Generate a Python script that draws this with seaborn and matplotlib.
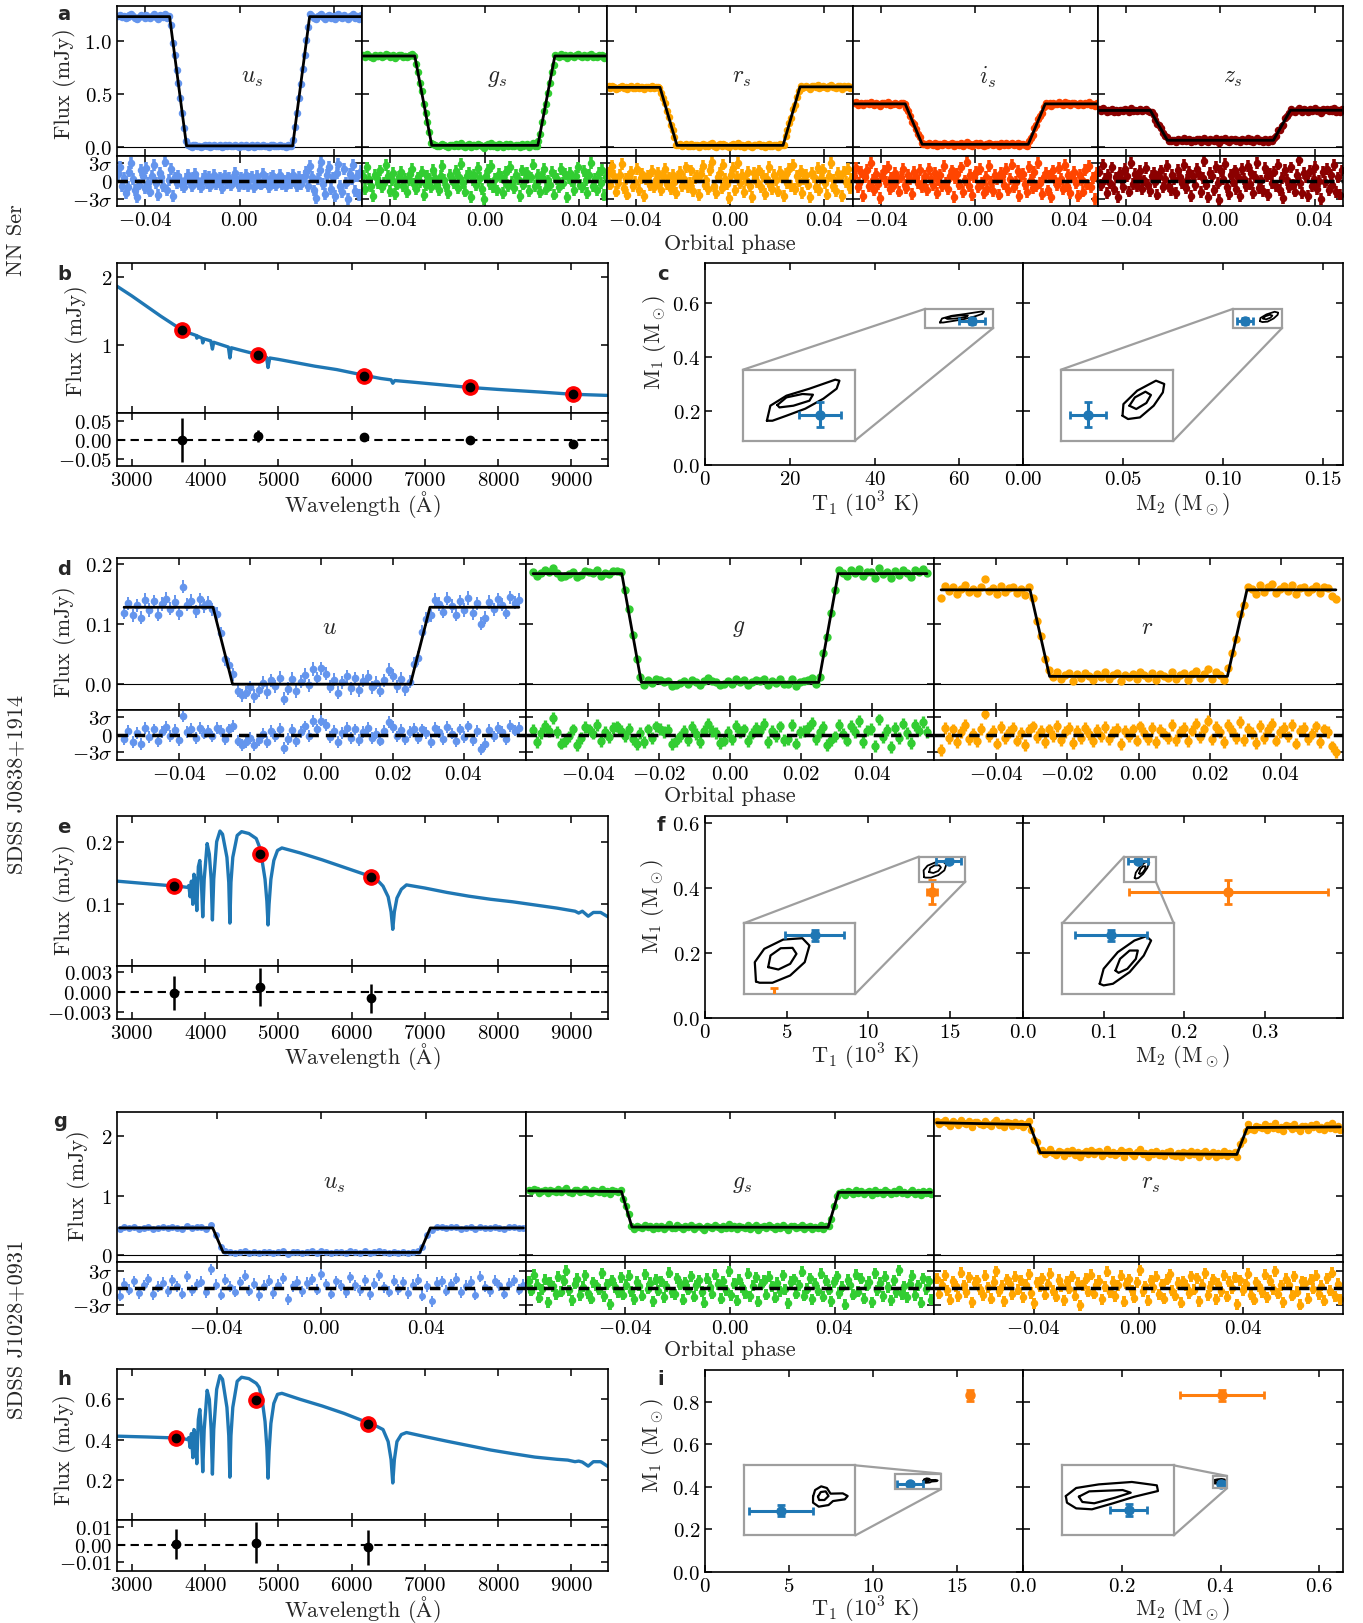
import numpy as np
import pandas as pd
import matplotlib
matplotlib.use("Agg")
import matplotlib.pyplot as plt
import seaborn as sns
from matplotlib.patches import Rectangle, ConnectionPatch

# ======================= DATA =======================
# residuals of the light curves are given in tenths of sigma
# ---- NN Ser light curves (panel a) ----
nn_xlim = (-0.052, 0.052)
nn_ext = (-0.0515, 0.0515)
nn_contacts = [-0.0297, -0.0225, 0.0225, 0.0297]
nn_bands = ["$u_s$", "$g_s$", "$r_s$", "$i_s$", "$z_s$"]
nn_colors = ["#6495ED", "#32CD32", "#FFA500", "#FF4500", "#8B0000"]
nn_model_u = [1.23, 1.23, 0.015, 0.015, 1.23, 1.23]
nn_model_g = [0.86, 0.86, 0.02, 0.02, 0.86, 0.86]
nn_model_r = [0.565, 0.565, 0.02, 0.02, 0.57, 0.57]
nn_model_i = [0.41, 0.41, 0.03, 0.03, 0.41, 0.41]
nn_model_z = [0.348, 0.348, 0.068, 0.068, 0.35, 0.35]
nn_sigma = [0.008, 0.007, 0.006, 0.006, 0.007]
res_nn_u = [12, 24, -8, 5, -21, -10, 16, 31, 4, -15, -28, -6, 19, 8, -12, 22, -4, -18, 9, 27,
            -3, -24, 14, 6, -9, 33, -16, 2, 21, -26,
            6, -3, 9, 2, -7, -11, 4, 10, -2, -8, 5, 12, 1, -6, -10, 3, 8, -4, 7, -9,
            2, 11, -5, -2, 6, -12, 4, 9, -3, 5, -7, 2, 13, -1, -9, 6, 0, -5, 10, -8,
            3, 7, -11, 1, 8, -4, -6, 12, -2, 4, -10, 5, 9, -3, -7, 2, 11, -6, 1, -9,
            6, 3, -4, 10, -1, -8, 7, -5, 2, 8,
            15, -9, 26, 7, -16, -29, 3, 18, 33, -5, -22, 10, 24, -13, 6, -26, 14, 29, -8, -19,
            21, -3, -31, 12, 4, 27, -17, 9, -24, 17]
res_nn_g = [8, -14, 23, 3, -9, -26, 11, 5, -3, 18, -11, -4, 27, 9, -17, 2, 13, -22, -6, 7,
            15, -8, 4, -19, 1, 12, 21, -5, -13, 6, -2, 16, -24, -7, 9, 3, -10, 19, 5, -6,
            -15, 8, 25, 2, -9, -20, 10, 4, -3, 17, -12, 6, 29, -4, -18, 9, 14, -27, 1, 11,
            -7, 22, 5, -14, -30, 8, 19, -5, 26, -11, 3, -16, 12, 7, -21, 0, 15, -8, 24, -2,
            -12, 10, 4, -25, 18, -6, 2, 13, -17, 6, 28, -9, -3, 11, -19, 7, 20, -13, 1, -7,
            16, -23, 9, 3, -10, 21, -4, 12, -28, 5, 14, -1, -15, 8, 23, -6, -11, 17, 2, -20,
            10, 31, -8, 4, -16, 13, -3, 19, -24, 6]
res_nn_r = [14, -6, 25, 8, -18, -3, 10, 29, -12, 4, -23, 7, 16, -9, -2, 21, -15, 5, 12, -26,
            3, 9, -7, 17, -11, 2, 13, -4, -16, 8, 20, -5, 6, -13, 11, -1, -20, 7, 15, -8,
            4, 23, -10, -3, 18, -17, 5, 9, -24, 12, 26, -6, 1, -14, 19, 32, -9, -21, 6, 14,
            -12, 28, 3, -5, -29, 10, 22, -16, 7, 30, -4, 11, -19, 2, 16, -8, -27, 13, 5, -2,
            18, -11, 9, -22, 4, 24, -7, -14, 10, 1, -18, 15, 6, -25, 12, -3, 20, -9, 27, -13,
            8, -1, 17, -20, 3, 11, -6, -28, 14, 7, -10, 22, -15, 5, 19, -4, -23, 9, 31, -8,
            2, -17, 13, 6, -26, 16, -2, 21, -12, 4]
res_nn_i = [9, 22, -11, -4, 15, -25, 6, 19, -8, 31, 2, -16, 12, -5, -29, 8, 17, -2, 24, -13,
            5, -9, 14, 1, -18, 7, 21, -6, -12, 10, 3, -22, 16, 6, -4, 19, -10, -1, 8, -15,
            20, 4, -7, 13, -21, 2, 11, -9, 25, -3, -14, 9, 18, -27, 5, 12, -6, 23, -19, 1,
            33, -8, 10, -24, 6, 16, -11, 20, -4, -20, 7, -13, 26, -2, -17, 11, 3, -23, 14, 8,
            -6, 21, -15, 4, 28, -10, -1, 17, -26, 9, 12, -5, -19, 24, 2, -12, 15, -8, 30, -3,
            -22, 6, 13, -16, 9, -28, 18, 1, -7, 22, 4, -14, 27, -9, 11, -21, 7, 16, -3, -25,
            10, 2, -18, 19, -6, 25, -11, 5, -30, 13]
res_nn_z = [16, -7, 28, 4, -20, 11, -3, 23, -14, 6, -27, 13, 2, -10, 20, 8, -18, 30, -5, 12,
            -9, 5, 17, -13, 1, 22, -6, -17, 9, 14, -2, -23, 7, 18, -11, 3, 25, -8, -15, 10,
            4, -21, 19, 6, -4, 27, -12, 2, 15, -25, 9, -7, 21, 12, -19, 5, 34, -6, -28, 13,
            8, -16, 24, -3, -32, 17, 4, 29, -10, -22, 11, -1, 18, -14, 6, -26, 20, 3, -9, 25,
            -5, 14, -20, 7, 31, -12, 1, -17, 22, 9, -24, 12, -4, 16, -8, 28, -15, 5, -29, 19,
            2, -11, 23, -6, -18, 10, 35, -3, -21, 13, 7, -26, 17, -9, 4, 24, -13, 0, -31, 15,
            -2, 20, -16, 11, -7, 27, -19, 6, -23, 18]

# ---- SDSS J0838+1914 light curves (panel d) ----
d_xlim = (-0.0575, 0.0575)
d_ext = (-0.0555, 0.0555)
d_contacts = [-0.0305, -0.025, 0.025, 0.0305]
d_bands = ["$u$", "$g$", "$r$"]
d_colors = ["#6495ED", "#32CD32", "#FFA500"]
d_model_u = [0.128, 0.128, 0.0, 0.0, 0.128, 0.128]
d_model_g = [0.184, 0.184, 0.003, 0.003, 0.184, 0.184]
d_model_r = [0.157, 0.157, 0.013, 0.013, 0.157, 0.157]
d_sigma = [0.011, 0.0035, 0.005]
res_d_u = [-8, 6, -12, 3, -16, 11, -4, 9, -11, 5, 13, -2, 8, -9, 31, 4, 10, -6, 12, 2,
           7, -3, 11, 6, -8, 9, 15, -10, -17, -13, -5, -18, -9, 2, -12, 6, -3, 10, -22, -7,
           8, -11, 4, 14, -2, 23, 9, 24, 16, -4, 7, -13, 3, 12, -6, 9, -9, 5, 11, -5,
           2, -10, 6, 22, 13, -3, 8, -8, 4, 10, -6, 9, 3, -12, 11, 5, -7, 13, 2, -11,
           9, -4, 14, -9, 6, -25, -16, 8, -3, 12, 4, -8, 15, 7, 11]
res_d_g = [8, -12, 3, 15, 6, 29, 4, -15, -11, -3, 9, -18, -6, 13, 9, 2, 17, -11, 5, -4,
           12, 14, 7, -2, 10, -8, -16, 3, -13, 9, -5, 14, 10, 4, 8, -16, -11, -3, 6, -9,
           13, 1, -12, 7, 19, 6, 3, -14, -10, 5, -8, 15, 4, 9, -11, 2, 12, 7, 18, -13,
           6, -2, 14, -9, -8, 16, -15, 4, 6, 11, 20, -8, 5, 13, -17, -9, -3, 17, 2, -10,
           15, 5, 23, -12, 7, 10, -19, 26, -4, 8, -21, 12, -6, 19, 3, -14, 16, 7, 22, 5]
res_d_r = [-26, 12, -5, 9, -13, 4, 16, -8, 2, -11, 10, 36, -3, 7, -15, 13, -6, 5, 11, -10,
           3, -18, 8, 14, -4, 6, -12, 9, -2, 15, -9, 4, 11, -14, 7, -5, 12, 1, -11, 8,
           -3, 13, -8, 5, 10, -16, 6, -2, 9, -10, 14, 3, -7, 11, -13, 8, 2, -6, 16, -9,
           5, 12, -11, 7, 19, -4, 9, 24, -8, 13, 4, -12, 17, 6, -5, 21, -9, 10, 3, -14,
           15, -6, 8, 18, -10, 4, 12, -3, 16, -15, 7, 11, -8, 2, 14, -12, 9, 5, -20, -29]

# ---- SDSS J1028+0931 light curves (panel g) ----
g_xlim = (-0.078, 0.078)
g_ext = (-0.077, 0.077)
g_contacts = [-0.0415, -0.0375, 0.0375, 0.0415]
g_bands = ["$u_s$", "$g_s$", "$r_s$"]
g_colors = ["#6495ED", "#32CD32", "#FFA500"]
g_model_u = [0.46, 0.46, 0.05, 0.05, 0.46, 0.46]
g_model_g = [1.08, 1.07, 0.475, 0.47, 1.055, 1.055]
g_model_r = [2.22, 2.19, 1.72, 1.69, 2.14, 2.15]
g_sigma = [0.012, 0.016, 0.022]
res_g_u = [-14, 8, -3, 12, -9, 5, 16, -11, 2, 9, -6, 14, 3, -10, 21, -4, 7, 11, -8, 34,
           6, -12, 15, 2, -7, 10, 22, -5, 8, -13, 4, 13, -9, 6, 18, -20, 3, 11, -6, 9,
           16, -3, 25, 7, -10, 12, 4, -8, 19, 5, -4, 14, -11, 8, 23, 1, -7, 13, -2, 10,
           -9, 6, 15, -14, 3, -24, 9, 12, -5, 7, 17, -8, 4, 11, -12, 20, 2, -6, 13, 5,
           -10, 8, 14, -3, 6]
res_g_g = [12, -5, 24, 6, -18, -2, 15, -26, 9, 3, -11, 20, -7, 13, 31, -4, -22, 8, 17, -13,
           2, 23, -9, -19, 10, 5, -3, 27, -15, 7, -29, 14, 1, -8, 19, -12, 6, 22, -6, -20,
           11, 4, -14, 25, -1, 9, -24, 16, -5, 12, -17, 3, 28, -8, -11, 18, 6, -21, 10, -3,
           21, -16, 5, 14, -7, -27, 17, 2, -10, 24, 7, -19, 12, -4, 30, -13, 8, -23, 15, 1,
           -9, 26, -15, 4, 19, -25, 6, 13, -12, 20, 3, -18, 9, -6, 23, -2, -28, 11, 16, -10,
           5, 29, -14, -1, 18, -20, 8, -5, 26, -16, 13, -3, -24, 10, 21, -9, 2, -30, 15, 6,
           -12, 24, -7, 17, -19, 4, 11, -26, 27, -4, 9, -15, 20, 1, -22, 14, -8, 32, -11, 3,
           -17, 7, 22, -13, 5, -27, 18, -2, 12, -21]
res_g_r = [17, -10, 6, 23, -4, -21, 12, 3, -15, 28, 5, -8, 19, -26, 9, 14, -2, -13, 22, 1,
           -19, 11, 30, -6, 4, -24, 16, 8, -11, 20, -3, 13, -17, 6, 25, -9, -28, 10, 2, 18,
           -12, 7, 26, -5, -16, 15, 3, -22, 12, -1, 21, -14, 9, -31, 4, 17, -7, 24, -10, 6,
           13, -20, 2, 29, -8, 11, -15, 5, 22, -25, 8, 16, -4, -18, 10, 32, -6, 3, -23, 14,
           1, 20, -11, 7, -19, 15, 25, -5, -14, 9, -27, 12, 4, -9, 21, -3, 18, -24, 6, 27,
           -13, 2, 16, -20, 8, -6, 23, -16, 11, 0, 19, -29, 14, -4, 7, 26, -12, -21, 10, 3,
           -8, 24, -17, 13, -2, 30, -10, 5, -26, 17, 6, -14, 21, -7, -30, 12, 9, -19, 15, -1,
           22, -11, 4, -23, 18, -5, 28, -15, 8, -20]

# ---- SED panels (b, e, h) ----
wl_b = [2800, 3000, 3200, 3400, 3600, 3700, 3800, 3880, 3889, 3900, 3960, 3970, 3985, 4080, 4102, 4120,
        4320, 4340, 4360, 4500, 4720, 4840, 4861, 4885, 5000, 5200, 5500, 5800, 6160, 6400, 6540, 6563,
        6590, 6800, 7100, 7400, 7600, 8000, 8300, 8600, 9000, 9500]
fl_b = [1.86, 1.72, 1.57, 1.42, 1.28, 1.22, 1.17, 1.14, 1.10, 1.13, 1.10, 1.03, 1.09, 1.06, 0.94, 1.04,
        0.97, 0.81, 0.96, 0.92, 0.86, 0.82, 0.67, 0.81, 0.79, 0.75, 0.69, 0.64, 0.56, 0.51, 0.49, 0.44,
        0.48, 0.46, 0.43, 0.40, 0.38, 0.35, 0.33, 0.31, 0.28, 0.262]
pts_b_wl = [3681, 4730, 6165, 7611, 9024]
pts_b_fl = [1.223, 0.854, 0.553, 0.379, 0.282]
res_b_val = [0.0, 0.011, 0.009, -0.001, -0.010]
res_b_err = [0.058, 0.016, 0.004, 0.003, 0.004]

wl_e = [2800, 3200, 3600, 3700, 3760, 3780, 3798, 3815, 3835, 3850, 3870, 3889, 3910, 3930, 3950, 3970,
        3990, 4030, 4060, 4085, 4102, 4120, 4160, 4205, 4240, 4300, 4325, 4340, 4355, 4380, 4440, 4500,
        4600, 4700, 4740, 4780, 4820, 4845, 4861, 4875, 4900, 4940, 4990, 5050, 5300, 5600, 5900, 6200,
        6350, 6430, 6500, 6540, 6563, 6585, 6620, 6680, 6750, 7000, 7300, 7600, 7900, 8200, 8500, 8800,
        8950, 9050, 9100, 9150, 9230, 9300, 9400, 9500]
fl_e = [0.137, 0.133, 0.129, 0.128, 0.127, 0.130, 0.112, 0.137, 0.100, 0.148, 0.138, 0.090, 0.160, 0.170,
        0.140, 0.080, 0.140, 0.197, 0.180, 0.140, 0.075, 0.140, 0.200, 0.217, 0.212, 0.175, 0.135, 0.070,
        0.135, 0.175, 0.210, 0.216, 0.213, 0.205, 0.193, 0.170, 0.140, 0.105, 0.067, 0.100, 0.140, 0.170,
        0.186, 0.190, 0.182, 0.171, 0.159, 0.147, 0.139, 0.129, 0.112, 0.088, 0.060, 0.088, 0.110, 0.124,
        0.131, 0.126, 0.119, 0.113, 0.108, 0.104, 0.099, 0.094, 0.091, 0.089, 0.086, 0.089, 0.081, 0.087,
        0.087, 0.080]
pts_e_wl = [3577, 4757, 6266]
pts_e_fl = [0.1295, 0.1805, 0.1437]
res_e_val = [-0.0002, 0.0007, -0.0010]
res_e_err = [0.0026, 0.0029, 0.0022]

wl_h = wl_e
fl_h = [0.417, 0.413, 0.408, 0.405, 0.400, 0.410, 0.360, 0.430, 0.310, 0.450, 0.430, 0.280, 0.500, 0.550,
        0.450, 0.240, 0.450, 0.645, 0.600, 0.450, 0.228, 0.450, 0.650, 0.718, 0.700, 0.560, 0.420, 0.213,
        0.420, 0.560, 0.690, 0.710, 0.703, 0.680, 0.660, 0.600, 0.490, 0.360, 0.208, 0.340, 0.480, 0.580,
        0.625, 0.630, 0.600, 0.567, 0.530, 0.487, 0.465, 0.450, 0.390, 0.300, 0.184, 0.300, 0.390, 0.425,
        0.435, 0.415, 0.392, 0.370, 0.348, 0.330, 0.313, 0.302, 0.298, 0.290, 0.293, 0.288, 0.268, 0.290,
        0.290, 0.266]
pts_h_wl = [3605, 4700, 6230]
pts_h_fl = [0.408, 0.598, 0.476]
res_h_val = [0.0005, 0.0013, -0.0015]
res_h_err = [0.0085, 0.012, 0.010]

# ---- Mass / temperature panels (c, f, i) ----
# points: (x, y, xerr, yerr)
c_T1_blue = (62.97, 0.535, 3.0, 0.0125)
c_M2_blue = (0.1110, 0.535, 0.004, 0.0125)
c_T_outer = [55.4, 55.9, 58.2, 61.5, 65.2, 65.8, 65.4, 63.5, 60.9, 58.2, 56.2]
c_TM_outer = [0.529, 0.544, 0.554, 0.561, 0.570, 0.569, 0.561, 0.551, 0.541, 0.534, 0.529]
c_T_inner = [56.9, 58.2, 60.5, 62.0, 61.5, 59.2, 57.2]
c_TM_inner = [0.5447, 0.5523, 0.5557, 0.555, 0.549, 0.544, 0.5423]
c_M2_outer = [0.1185, 0.1187, 0.1217, 0.1258, 0.1276, 0.1273, 0.1253, 0.1223, 0.1197]
c_MM_outer = [0.534, 0.5456, 0.559, 0.569, 0.5657, 0.5573, 0.544, 0.5323, 0.5307]
c_M2_inner = [0.1200, 0.1212, 0.1235, 0.1247, 0.1237, 0.1215]
c_MM_inner = [0.544, 0.5523, 0.558, 0.5547, 0.5467, 0.5407]

f_T1_blue = (14.9, 0.4844, 0.75, 0.006)
f_T1_orange = (13.87, 0.390, 0.29, 0.037)
f_M2_blue = (0.1424, 0.4844, 0.0127, 0.006)
f_M2_orange = (0.2547, 0.390, 0.1235, 0.037)
f_T_outer = [13.40, 13.37, 13.61, 14.09, 14.58, 14.76, 14.64, 14.27, 13.82, 13.49]
f_TM_outer = [0.4343, 0.4553, 0.4698, 0.4799, 0.4814, 0.4734, 0.4553, 0.4408, 0.4329, 0.4329]
f_T_inner = [13.71, 13.77, 14.03, 14.33, 14.43, 14.27, 13.97]
f_TM_inner = [0.4499, 0.4626, 0.4705, 0.4709, 0.4644, 0.4535, 0.4473]
f_M2_outer = [0.1385, 0.1399, 0.1449, 0.1508, 0.1550, 0.1567, 0.1541, 0.1491, 0.1432, 0.1399]
f_MM_outer = [0.4318, 0.4481, 0.4662, 0.4789, 0.4836, 0.4789, 0.4625, 0.4445, 0.4318, 0.4300]
f_M2_inner = [0.1441, 0.1457, 0.1491, 0.1520, 0.1513, 0.1483, 0.1452]
f_MM_inner = [0.4462, 0.4589, 0.4680, 0.4680, 0.4589, 0.4481, 0.4437]

i_T1_blue = (12.2, 0.415, 0.78, 0.006)
i_T1_orange = (15.74, 0.831, 0.1, 0.025)
i_M2_blue = (0.4013, 0.415, 0.0048, 0.005)
i_M2_orange = (0.403, 0.831, 0.085, 0.025)
i_T_outer = [12.98, 13.03, 13.18, 13.32, 13.41, 13.71, 13.83, 13.76, 13.47, 13.36, 13.12, 12.98]
i_TM_outer = [0.4297, 0.4367, 0.4406, 0.4388, 0.4329, 0.4332, 0.4304, 0.4269, 0.4251, 0.4209, 0.4192, 0.4234]
i_T_inner = [13.10, 13.17, 13.29, 13.36, 13.26, 13.13]
i_TM_inner = [0.4297, 0.4346, 0.4353, 0.4304, 0.4262, 0.4262]
i_M2_outer = [0.3849, 0.3876, 0.3935, 0.4021, 0.4086, 0.4089, 0.4028, 0.3972, 0.3917, 0.3876, 0.3852]
i_MM_outer = [0.4263, 0.4330, 0.4360, 0.4380, 0.4352, 0.4305, 0.4258, 0.4203, 0.4153, 0.4161, 0.4208]
i_M2_inner = [0.3883, 0.3910, 0.3997, 0.4018, 0.3978, 0.3923, 0.3892]
i_MM_inner = [0.4258, 0.4302, 0.4313, 0.4291, 0.4250, 0.4203, 0.4214]

# ======================= STYLE =======================
sns.set_theme(style="ticks")
plt.rcParams.update({
    "font.family": "serif",
    "font.serif": ["cmr10"],
    "mathtext.fontset": "cm",
    "axes.formatter.use_mathtext": True,
    "axes.unicode_minus": True,
    "xtick.direction": "in", "ytick.direction": "in",
    "xtick.top": True, "ytick.right": True,
    "xtick.bottom": True, "ytick.left": True,
    "xtick.major.size": 5, "ytick.major.size": 5,
    "xtick.major.width": 1.1, "ytick.major.width": 1.1,
    "xtick.minor.visible": False, "ytick.minor.visible": False,
    "axes.linewidth": 1.2,
    "axes.edgecolor": "black",
    "xtick.color": "black", "ytick.color": "black",
    "xtick.labelsize": 15, "ytick.labelsize": 15,
    "axes.facecolor": "white",
    "axes.grid": False,
})

W, H = 1363, 1624
fig = plt.figure(figsize=(W / 100, H / 100), dpi=100)
BLUE = "#1f77b4"
ORANGE = "#ff7f0e"
GRAY = "0.62"


def add_ax(l, t, r, b):
    return fig.add_axes([l / W, 1 - b / H, (r - l) / W, (b - t) / H])


def ftext(x, y, s, **kw):
    fig.text(x / W, 1 - y / H, s, **kw)


def letter(x, y, s):
    ftext(x, y, s, fontsize=14, fontweight="bold", family="DejaVu Sans", ha="center", va="center")


def lightcurve_row(cols, ytop, ymid, ybot, xlim, ext, contacts, models, residuals, sigmas, colors,
                   labels, label_xy, ylim_top, yticks_top, ylim_res, xticks, ms, elw):
    mph = [ext[0]] + contacts + [ext[1]]
    for k in range(len(models)):
        at = add_ax(cols[k], ytop, cols[k + 1], ymid)
        ar = add_ax(cols[k], ymid, cols[k + 1], ybot)
        res = np.array(residuals[k], dtype=float) / 10.0
        ph = np.linspace(ext[0], ext[1], len(res))
        mod = np.interp(ph, mph, models[k])
        at.errorbar(ph, mod + res * sigmas[k], yerr=sigmas[k], fmt="o", ms=ms[k], color=colors[k],
                    elinewidth=elw[k], capsize=0, zorder=2)
        sns.lineplot(x=mph, y=models[k], ax=at, color="black", linewidth=2.0, zorder=3)
        at.axhline(0, color="black", lw=0.8, zorder=1)
        at.set_xlim(xlim)
        at.set_ylim(ylim_top)
        at.set_xticks(xticks)
        at.set_yticks(yticks_top)
        at.tick_params(labelbottom=False)
        at.text(label_xy[0], label_xy[1], labels[k], transform=at.transAxes, fontsize=17,
                ha="center", va="center")
        ar.errorbar(ph, res, yerr=1.0, fmt="o", ms=ms[k], color=colors[k], elinewidth=elw[k],
                    capsize=0, zorder=2)
        ar.axhline(0, color="black", lw=2.5, ls=(0, (3, 2)), zorder=3)
        ar.set_xlim(xlim)
        ar.set_ylim(ylim_res)
        ar.set_xticks(xticks)
        ar.set_yticks([-3, 0, 3])
        ar.set_yticklabels([r"$-3\sigma$", r"$0$", r"$3\sigma$"])
        for a in (at, ar):
            a.set_xlabel("")
            a.set_ylabel("")
        if k > 0:
            at.tick_params(labelleft=False)
            ar.tick_params(labelleft=False)


def sed_panel(l, r, ytop, ymid, ybot, wl, fl, pw, pf, rv, re, ylim, yticks, rylim, ryticks):
    at = add_ax(l, ytop, r, ymid)
    ar = add_ax(l, ymid, r, ybot)
    sns.lineplot(x=wl, y=fl, ax=at, color=BLUE, linewidth=2.4, sort=False, zorder=2)
    at.plot(pw, pf, "o", color="red", ms=11, zorder=4)
    at.plot(pw, pf, "o", color="black", ms=6, zorder=5)
    ar.errorbar(pw, rv, yerr=re, fmt="o", color="black", ms=6, elinewidth=1.8, capsize=0, zorder=3)
    ar.axhline(0, color="black", lw=1.5, ls=(0, (4, 2.5)), zorder=2)
    for a in (at, ar):
        a.set_xlim(2800, 9500)
        a.set_xticks([3000, 4000, 5000, 6000, 7000, 8000, 9000])
        a.set_xlabel("")
        a.set_ylabel("")
    at.tick_params(labelbottom=False)
    at.set_ylim(ylim)
    at.set_yticks(yticks)
    ar.set_ylim(rylim)
    ar.set_yticks(ryticks)


CORNER = {"UL": (0, 1), "UR": (1, 1), "LL": (0, 0), "LR": (1, 0)}


def mass_panel(ax, xlim, ylim, xticks, yticks, points, contours, box, ins_bounds, links, show_y):
    ax.set_xlim(xlim)
    ax.set_ylim(ylim)
    ax.set_xticks(xticks)
    ax.set_yticks(yticks)
    if not show_y:
        ax.tick_params(labelleft=False)
    ins = ax.inset_axes(ins_bounds)
    for a, lw in ((ax, 1.3), (ins, 1.6)):
        for cx, cy in contours:
            a.plot(list(cx) + [cx[0]], list(cy) + [cy[0]], color="black", lw=lw, zorder=3)
        for (px, py, ex, ey), c in points:
            a.errorbar([px], [py], xerr=[ex], yerr=[ey], fmt="o", color=c, ms=6.5, elinewidth=2.2,
                       capsize=3, capthick=2, zorder=4)
    ins.set_xlim(box[0], box[1])
    ins.set_ylim(box[2], box[3])
    ins.set_xticks([])
    ins.set_yticks([])
    ins.set_facecolor("white")
    for s in ins.spines.values():
        s.set_color(GRAY)
        s.set_linewidth(1.6)
    ax.add_patch(Rectangle((box[0], box[2]), box[1] - box[0], box[3] - box[2], fill=False,
                           ec=GRAY, lw=1.6, zorder=5))
    for ic, bc in links:
        cxy = CORNER[bc]
        bx = box[0] + cxy[0] * (box[1] - box[0])
        by = box[2] + cxy[1] * (box[3] - box[2])
        con = ConnectionPatch(xyA=CORNER[ic], coordsA=ins.transAxes, xyB=(bx, by),
                              coordsB=ax.transData, color=GRAY, lw=1.6, zorder=5)
        ax.add_artist(con)


# ======================= PANEL a (NN Ser) =======================
cols5 = [117 + k * 245.2 for k in range(6)]
lightcurve_row(cols5, 7, 157, 207, nn_xlim, nn_ext, nn_contacts,
               [nn_model_u, nn_model_g, nn_model_r, nn_model_i, nn_model_z],
               [res_nn_u, res_nn_g, res_nn_r, res_nn_i, res_nn_z], nn_sigma, nn_colors,
               nn_bands, (0.55, 0.53), (-0.08, 1.33), [0.0, 0.5, 1.0], (-4.25, 4.25),
               [-0.04, 0.0, 0.04], [4.4] * 5, [2.6] * 5)
letter(64, 15, "a")
ftext(64, 84, "Flux (mJy)", rotation=90, fontsize=16, ha="center", va="center")
ftext(730, 244, "Orbital phase", fontsize=16, ha="center", va="center")
ftext(16, 240, "NN Ser", rotation=90, fontsize=16, ha="center", va="center")

# ======================= PANEL b =======================
sed_panel(117, 608, 264, 414, 467, wl_b, fl_b, pts_b_wl, pts_b_fl, res_b_val, res_b_err,
          (0.005, 2.2), [1, 2], (-0.069, 0.072), [-0.05, 0.0, 0.05])
letter(64, 274, "b")
ftext(76, 341, "Flux (mJy)", rotation=90, fontsize=16, ha="center", va="center")
ftext(362, 505, r"Wavelength ($\mathrm{\AA}$)", fontsize=16, ha="center", va="center")

# ======================= PANEL c =======================
cl = add_ax(705, 264, 1023, 466)
cr = add_ax(1023, 264, 1343, 466)
mass_panel(cl, (0, 75), (0, 0.75), [0, 20, 40, 60], [0.0, 0.2, 0.4, 0.6],
           [(c_T1_blue, BLUE)], [(c_T_outer, c_TM_outer), (c_T_inner, c_TM_inner)],
           (52, 68, 0.509, 0.580), [0.12, 0.12, 0.351, 0.352], [("UL", "UL"), ("LR", "LR")], True)
mass_panel(cr, (0, 0.16), (0, 0.75), [0.0, 0.05, 0.10, 0.15], [0.0, 0.2, 0.4, 0.6],
           [(c_M2_blue, BLUE)], [(c_M2_outer, c_MM_outer), (c_M2_inner, c_MM_inner)],
           (0.1051, 0.1296, 0.509, 0.580), [0.119, 0.12, 0.351, 0.352], [("UL", "UL"), ("LR", "LR")], False)
letter(663, 274, "c")
ftext(655, 342, r"M$_1$ (M$_\odot$)", rotation=90, fontsize=16, ha="center", va="center")
ftext(865, 505, r"T$_1$ (10$^3$ K)", fontsize=16, ha="center", va="center")
ftext(1183, 505, r"M$_2$ (M$_\odot$)", fontsize=16, ha="center", va="center")

# ======================= PANEL d (J0838) =======================
cols3 = [117, 526, 934, 1343]
lightcurve_row(cols3, 559, 711, 761, d_xlim, d_ext, d_contacts,
               [d_model_u, d_model_g, d_model_r], [res_d_u, res_d_g, res_d_r], d_sigma, d_colors,
               d_bands, (0.52, 0.545), (-0.043, 0.21), [0.0, 0.1, 0.2], (-4.3, 4.2),
               [-0.04, -0.02, 0.0, 0.02, 0.04], [4.5, 5.0, 5.0], [1.4, 2.4, 2.4])
letter(64, 570, "d")
ftext(64, 642, "Flux (mJy)", rotation=90, fontsize=16, ha="center", va="center")
ftext(730, 796, "Orbital phase", fontsize=16, ha="center", va="center")
ftext(16, 784, "SDSS J0838+1914", rotation=90, fontsize=16, ha="center", va="center")

# ======================= PANEL e =======================
sed_panel(117, 608, 817, 967, 1020, wl_e, fl_e, pts_e_wl, pts_e_fl, res_e_val, res_e_err,
          (0.0015, 0.241), [0.1, 0.2], (-0.0041, 0.0039), [-0.003, 0.0, 0.003])
letter(64, 828, "e")
ftext(64, 900, "Flux (mJy)", rotation=90, fontsize=16, ha="center", va="center")
ftext(362, 1057, r"Wavelength ($\mathrm{\AA}$)", fontsize=16, ha="center", va="center")

# ======================= PANEL f =======================
fl_ax = add_ax(705, 817, 1023, 1019)
fr_ax = add_ax(1023, 817, 1343, 1019)
mass_panel(fl_ax, (0, 19.45), (0, 0.623), [0, 5, 10, 15], [0.0, 0.2, 0.4, 0.6],
           [(f_T1_blue, BLUE), (f_T1_orange, ORANGE)],
           [(f_T_outer, f_TM_outer), (f_T_inner, f_TM_inner)],
           (13.09, 15.93, 0.4209, 0.4977), [0.122, 0.12, 0.351, 0.349], [("UL", "UL"), ("LR", "LR")], True)
mass_panel(fr_ax, (0, 0.397), (0, 0.623), [0.0, 0.1, 0.2, 0.3], [0.0, 0.2, 0.4, 0.6],
           [(f_M2_blue, BLUE), (f_M2_orange, ORANGE)],
           [(f_M2_outer, f_MM_outer), (f_M2_inner, f_MM_inner)],
           (0.1253, 0.1647, 0.4209, 0.4977), [0.123, 0.12, 0.348, 0.349], [("UL", "UL"), ("UR", "LR")], False)
letter(661, 826, "f")
ftext(652, 906, r"M$_1$ (M$_\odot$)", rotation=90, fontsize=16, ha="center", va="center")
ftext(865, 1057, r"T$_1$ (10$^3$ K)", fontsize=16, ha="center", va="center")
ftext(1183, 1057, r"M$_2$ (M$_\odot$)", fontsize=16, ha="center", va="center")

# ======================= PANEL g (J1028) =======================
lightcurve_row(cols3, 1113, 1263, 1315, g_xlim, g_ext, g_contacts,
               [g_model_u, g_model_g, g_model_r], [res_g_u, res_g_g, res_g_r], g_sigma, g_colors,
               g_bands, (0.53, 0.53), (-0.11, 2.4), [0, 1, 2], (-4.7, 4.7),
               [-0.04, 0.0, 0.04], [4.0, 4.4, 4.4], [1.4, 2.8, 2.8])
letter(60, 1122, "g")
ftext(78, 1186, "Flux (mJy)", rotation=90, fontsize=16, ha="center", va="center")
ftext(730, 1350, "Orbital phase", fontsize=16, ha="center", va="center")
ftext(16, 1329, "SDSS J1028+0931", rotation=90, fontsize=16, ha="center", va="center")

# ======================= PANEL h =======================
sed_panel(117, 608, 1370, 1521, 1572, wl_h, fl_h, pts_h_wl, pts_h_fl, res_h_val, res_h_err,
          (0.0, 0.751), [0.2, 0.4, 0.6], (-0.0151, 0.0143), [-0.01, 0.0, 0.01])
letter(64, 1380, "h")
ftext(64, 1450, "Flux (mJy)", rotation=90, fontsize=16, ha="center", va="center")
ftext(362, 1610, r"Wavelength ($\mathrm{\AA}$)", fontsize=16, ha="center", va="center")

# ======================= PANEL i =======================
il_ax = add_ax(705, 1371, 1023, 1573)
ir_ax = add_ax(1023, 1371, 1343, 1573)
mass_panel(il_ax, (0, 18.9), (0, 0.95), [0, 5, 10, 15], [0.0, 0.2, 0.4, 0.6, 0.8],
           [(i_T1_blue, BLUE), (i_T1_orange, ORANGE)],
           [(i_T_outer, i_TM_outer), (i_T_inner, i_TM_inner)],
           (11.28, 14.02, 0.389, 0.4627), [0.122, 0.1815, 0.351, 0.3465], [("UR", "UR"), ("LR", "LR")], True)
mass_panel(ir_ax, (0, 0.648), (0, 0.95), [0.0, 0.2, 0.4, 0.6], [0.0, 0.2, 0.4, 0.6, 0.8],
           [(i_M2_blue, BLUE), (i_M2_orange, ORANGE)],
           [(i_M2_outer, i_MM_outer), (i_M2_inner, i_MM_inner)],
           (0.384, 0.413, 0.3937, 0.4518), [0.123, 0.1815, 0.348, 0.3465], [("UR", "UR"), ("LR", "LR")], False)
letter(661, 1380, "i")
ftext(652, 1445, r"M$_1$ (M$_\odot$)", rotation=90, fontsize=16, ha="center", va="center")
ftext(865, 1610, r"T$_1$ (10$^3$ K)", fontsize=16, ha="center", va="center")
ftext(1183, 1610, r"M$_2$ (M$_\odot$)", fontsize=16, ha="center", va="center")

fig.savefig("out.png", dpi=100)
